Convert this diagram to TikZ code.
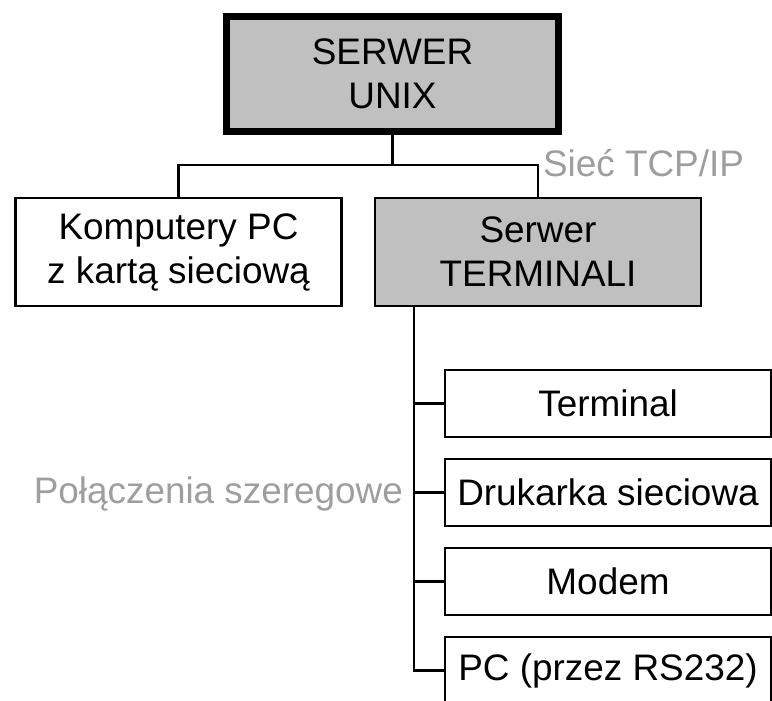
\documentclass[tikz,border=0pt]{standalone}
\usepackage{fontspec}
\setmainfont{Liberation Sans}
\usetikzlibrary{positioning, calc}
\definecolor{boxgray}{HTML}{C0C0C0}
\definecolor{notegray}{HTML}{9E9EA0}

\begin{document}
\begin{tikzpicture}[
    every node/.style={font=\fontsize{10.5}{12.5}\selectfont, outer sep=0pt},
    mainbox/.style={rectangle, draw=black, line width=2pt, fill=boxgray,
                    minimum width=3.32cm, minimum height=1.15cm, align=center},
    hostbox/.style={rectangle, draw=black, line width=0.7pt, fill=#1,
                    minimum width=3.26cm, minimum height=1.08cm, align=center},
    devbox/.style={rectangle, draw=black, line width=0.7pt, fill=white,
                   minimum width=3.26cm, minimum height=0.67cm, align=center},
    note/.style={text=notegray, inner sep=0pt},
    link/.style={draw=black, line width=0.7pt}
]
    \useasboundingbox (0,0) rectangle (7.72,7.00);

    % Server and the TCP/IP level
    \node[mainbox] (unix) at (3.925,6.26) {SERWER\\UNIX};
    \node[hostbox=white, below=0.665cm of unix, xshift=-2.14cm] (pcs) {Komputery PC\\z kartą sieciową};
    \node[hostbox=boxgray, below=0.665cm of unix, xshift=1.455cm] (terms) {Serwer\\TERMINALI};

    % Devices on serial lines
    \node[devbox, below=0.64cm of terms, xshift=0.70cm] (term) {Terminal};
    \node[devbox, below=0.22cm of term] (prn) {Drukarka sieciowa};
    \node[devbox, below=0.22cm of prn] (modem) {Modem};
    \node[devbox, below=0.22cm of modem] (rspc) {PC (przez RS232)};

    % Network bus
    \coordinate (bus) at ($(unix.south)+(0,-0.335)$);
    \draw[link] (unix.south) -- (bus);
    \draw[link] (pcs.north) |- (bus) -| (terms.north);
    \node[note, anchor=base west] (tcp) at ([shift={(0.05,0.22)}]terms.north) {Sieć TCP/IP};

    % Serial trunk
    \coordinate (trunk) at ([xshift=0.39cm]terms.south west);
    \draw[link] (trunk) -- (trunk |- rspc.west) -- (rspc.west);
    \foreach \dev in {term, prn, modem}
        \draw[link] (trunk |- \dev.west) -- (\dev.west);
    \node[note, anchor=base east] (serial) at ($(trunk |- prn.west)+(-0.11,-0.105)$) {Połączenia szeregowe};
\end{tikzpicture}
\end{document}
